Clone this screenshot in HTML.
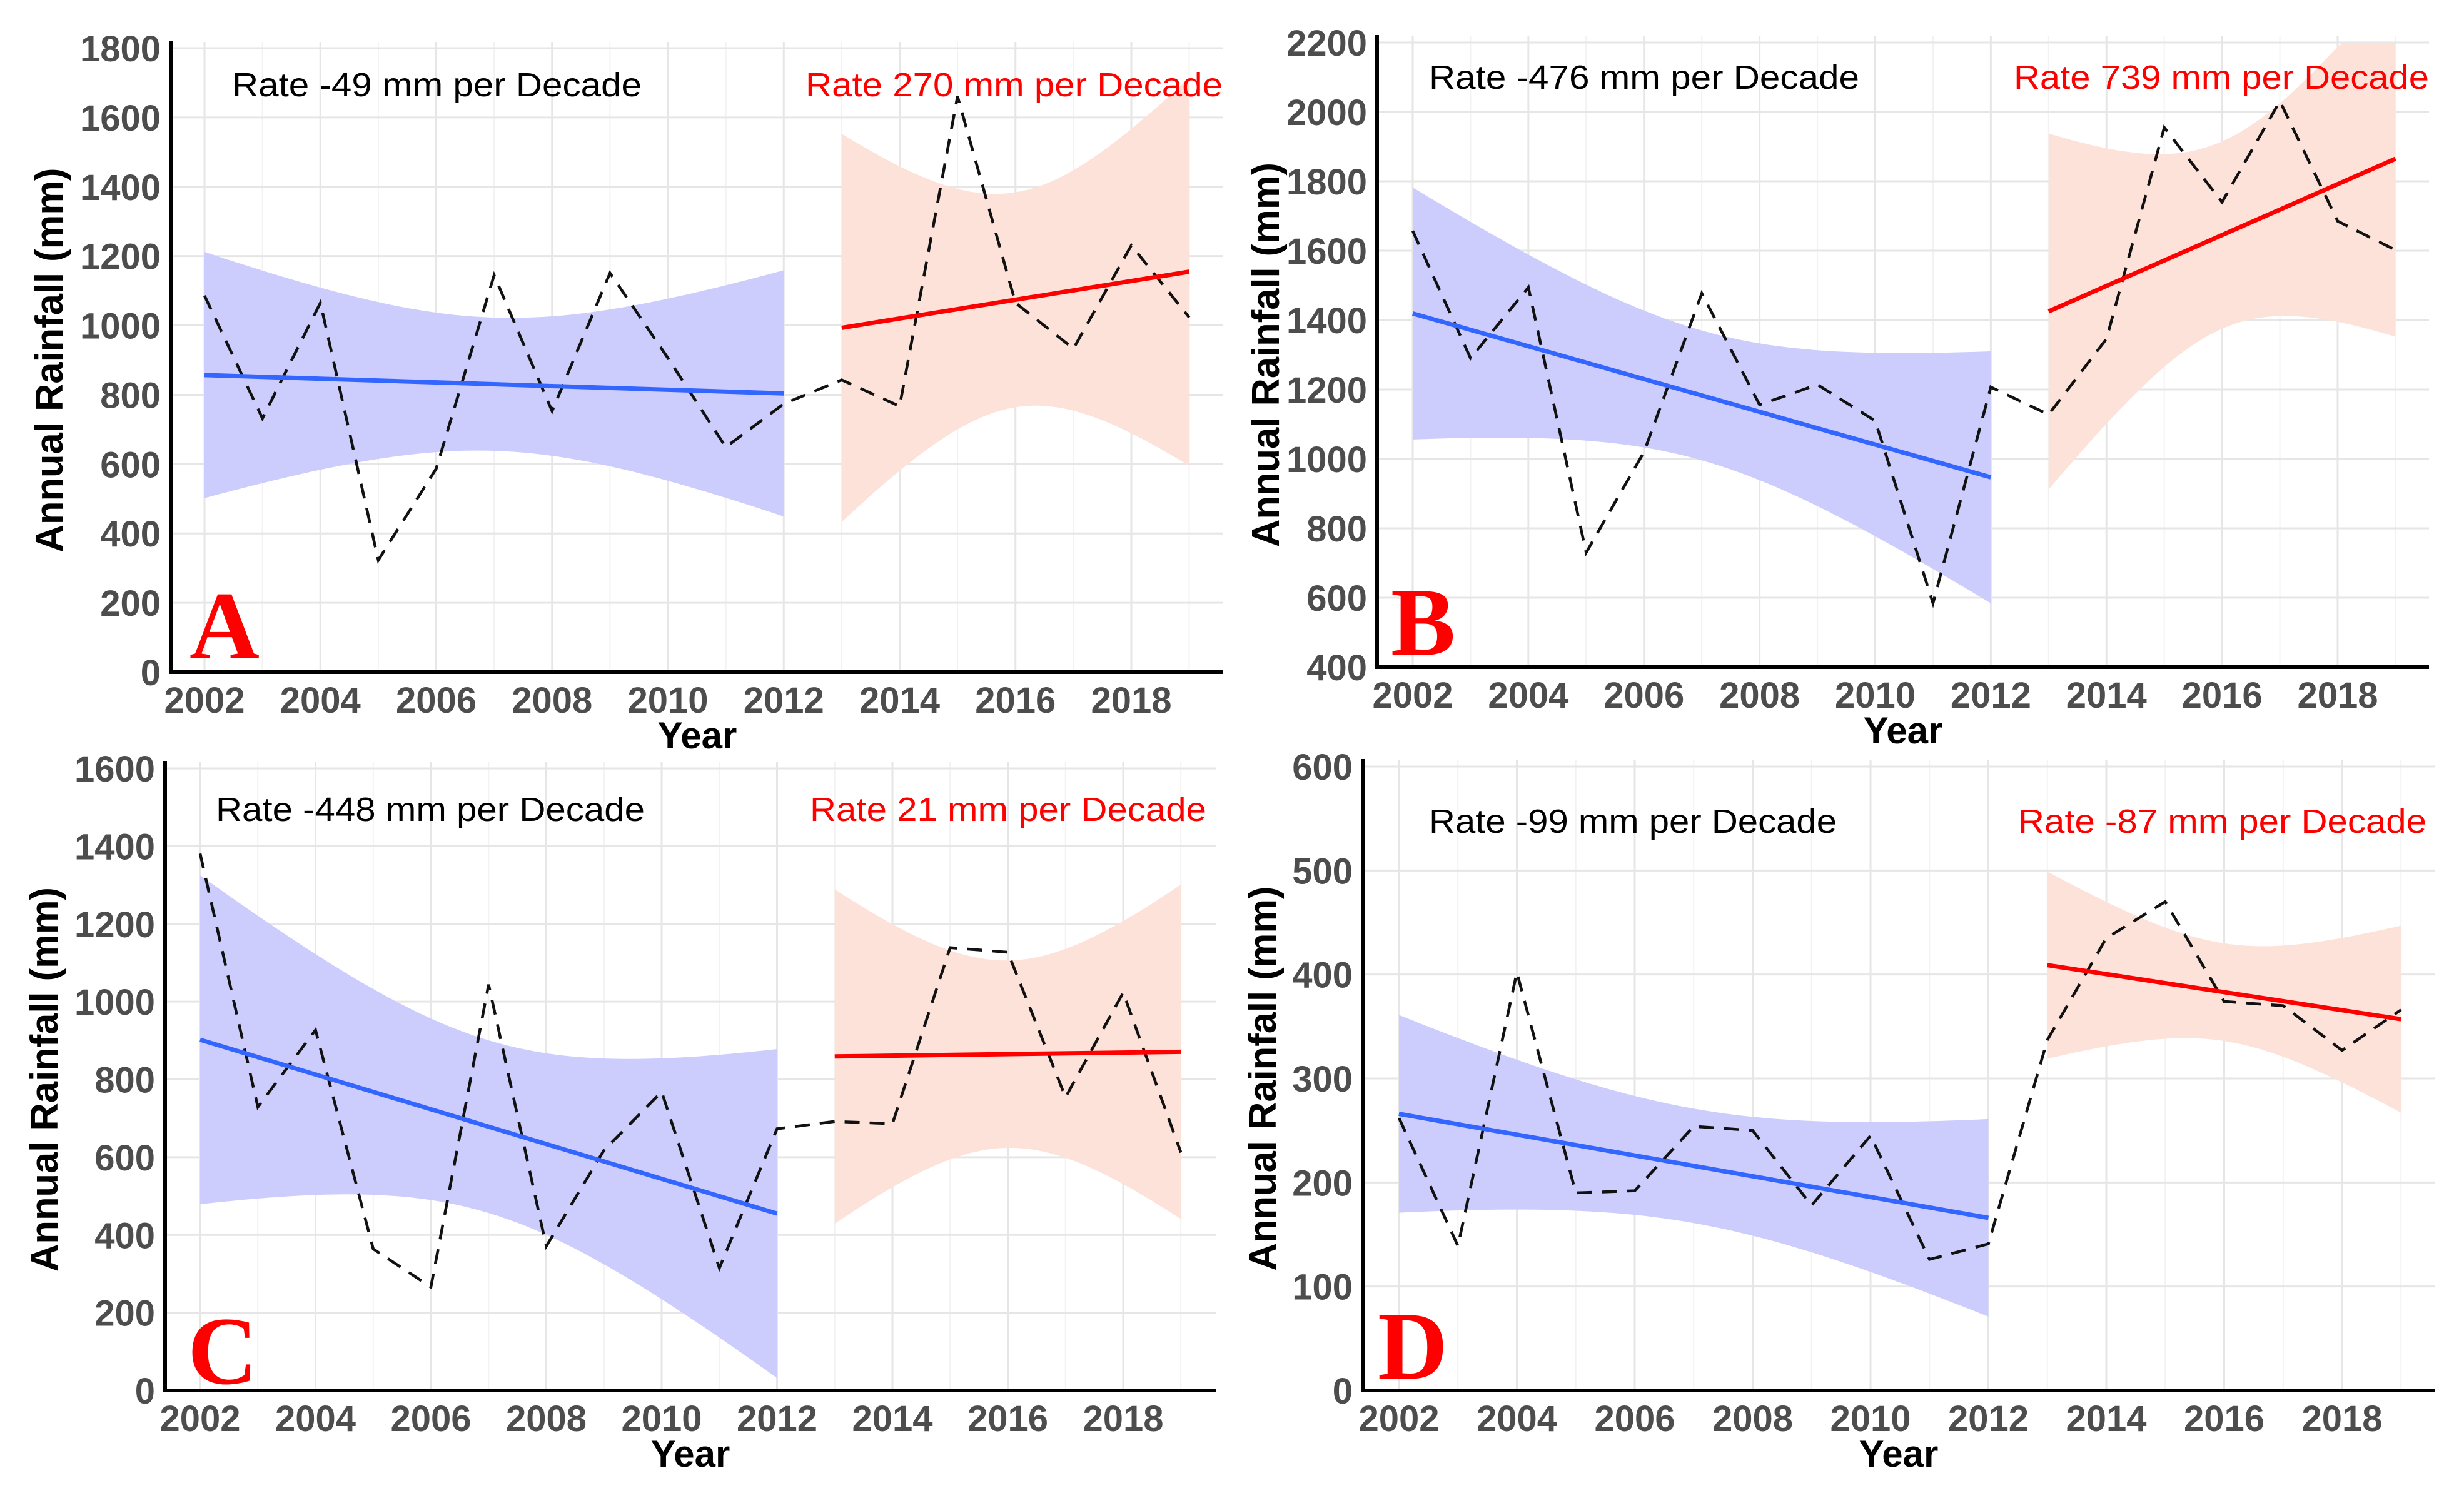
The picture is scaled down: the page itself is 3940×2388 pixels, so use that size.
<!DOCTYPE html>
<html><head><meta charset="utf-8"><style>
html,body{margin:0;padding:0;background:#fff}
svg{display:block}
text{font-family:"Liberation Sans",Arial,sans-serif}
</style></head><body>
<svg id="fig" xmlns="http://www.w3.org/2000/svg" width="3940" height="2388" viewBox="0 0 3940 2388"></svg>
<script>
// ---- data ----
const years = [2002,2003,2004,2005,2006,2007,2008,2009,2010,2011,2012,2013,2014,2015,2016,2017,2018,2019];
const xTicks = [2002,2004,2006,2008,2010,2012,2014,2016,2018];
const rainA = [1086,732,1065,323,587,1145,753,1151,906,649,774,843,767,1661,1065,933,1231,1023];
const rainB = [1657,1290,1494,730,1020,1477,1156,1214,1110,584,1207,1128,1346,1955,1740,2031,1685,1602];
const rainC = [1381,729,927,364,266,1044,371,618,768,315,673,692,686,1139,1127,754,1023,612];
const rainD = [262,139,402,190,192,254,250,178,245,126,141,337,435,470,374,370,327,366];
// trend start/end values (period 1: 2002-2012, period 2: 2013-2019)
const trendA1 = [857,804], trendA2 = [993,1155];
const trendB1 = [1419,947], trendB2 = [1425,1865];
const trendC1 = [902,455], trendC2 = [859,871];
const trendD1 = [266,166], trendD2 = [409,357];
// confidence band half-widths [at middle, at ends]
const bandA1 = [192,355], bandA2 = [310,560];
const bandB1 = [187,363], bandB2 = [270,513];
const bandC1 = [222,423], bandC2 = [241,430];
const bandD1 = [55,95], bandD2 = [47,90];
const yTicksA = [0,200,400,600,800,1000,1200,1400,1600,1800];
const yTicksB = [400,600,800,1000,1200,1400,1600,1800,2000,2200];
const yTicksC = [0,200,400,600,800,1000,1200,1400,1600];
const yTicksD = [0,100,200,300,400,500,600];
const ratesA = ["Rate -49 mm per Decade","Rate 270 mm per Decade"];
const ratesB = ["Rate -476 mm per Decade","Rate 739 mm per Decade"];
const ratesC = ["Rate -448 mm per Decade","Rate 21 mm per Decade"];
const ratesD = ["Rate -99 mm per Decade","Rate -87 mm per Decade"];

const NS = "http://www.w3.org/2000/svg";
const svg = document.getElementById('fig');
function mk(tag, attrs, parent){
  const e = document.createElementNS(NS, tag);
  for (const k in attrs) e.setAttribute(k, attrs[k]);
  (parent||svg).appendChild(e);
  return e;
}

function drawPanel(L, rain, t1, t2, b1, b2, yTicks, rates, letter, key){
  const g = mk('g', {});
  
  
  const x = v => L.x0 + (v - 2002) * (L.x1 - L.x0) / 16;
  const y = v => L.yb + (v - L.vmin) * (L.yt - L.yb) / (L.vmax - L.vmin);
  // grid
  const grid = mk('g', {}, g);
  
  
  for (let yr = 2002; yr <= 2019; yr++) {
    const major = (yr % 2 === 0);
    mk('line', {x1:x(yr), x2:x(yr), y1:L.yt - 10, y2:L.yb, stroke: major ? '#e6e6e6' : '#f2f2f2', 'stroke-width': major ? 3 : 2}, grid);
  }
  yTicks.forEach(v => mk('line', {x1:L.ax, x2:L.right, y1:y(v), y2:y(v), stroke:'#e6e6e6', 'stroke-width':3}, grid));
  // bands
  function band(tr, bw, xa, xb, color, name){
    const xm = (xa + xb) / 2, pts = [], low = [];
    for (let i = 0; i <= 60; i++) {
      const xv = xa + (xb - xa) * i / 60;
      const c = tr[0] + (tr[1] - tr[0]) * (xv - xa) / (xb - xa);
      const f = (xv - xm) / (xb - xm);
      const h = Math.sqrt(bw[0]*bw[0] + (bw[1]*bw[1] - bw[0]*bw[0]) * f * f);
      const up = Math.min(c + h, L.vmax), lo = Math.max(c - h, L.vmin);
      pts.push(x(xv).toFixed(1) + ',' + y(up).toFixed(1));
      low.unshift(x(xv).toFixed(1) + ',' + y(lo).toFixed(1));
    }
    const p = mk('polygon', {points: pts.concat(low).join(' '), fill: color}, g);
    
    
  }
  band(t1, b1, 2002, 2012, '#ccccfd', 'confidence-band-2002-2012');
  band(t2, b2, 2013, 2019, '#fde2da', 'confidence-band-2013-2019');
  // dashed series
  const path = mk('polyline', {points: rain.map((v,i) => x(years[i]).toFixed(1) + ',' + y(v).toFixed(1)).join(' '), fill:'none', stroke:'#111', 'stroke-width':4.5, 'stroke-dasharray':'24 16'}, g);
  
  
  // trends
  const l1 = mk('line', {x1:x(2002), x2:x(2012), y1:y(t1[0]), y2:y(t1[1]), stroke:'#3366ff', 'stroke-width':7}, g);
  
  
  const l2 = mk('line', {x1:x(2013), x2:x(2019), y1:y(t2[0]), y2:y(t2[1]), stroke:'#ff0000', 'stroke-width':7}, g);
  
  
  // axes
  const ya = mk('line', {x1:L.ax, x2:L.ax, y1:L.yt - 12, y2:L.yb + 3, stroke:'#000', 'stroke-width':6}, g);
  
  
  const xa = mk('line', {x1:L.ax - 3, x2:L.right, y1:L.yb, y2:L.yb, stroke:'#000', 'stroke-width':6}, g);
  
  
  yTicks.forEach(v => {
    const t = mk('text', {x:L.ax - 16, y:y(v) + 21, 'text-anchor':'end', 'font-size':58, 'font-weight':'bold', fill:'#4d4d4d'}, g);
    t.textContent = v;
    
    
  });
  xTicks.forEach(v => {
    const t = mk('text', {x:x(v), y:L.yb + 65, 'text-anchor':'middle', 'font-size':58, 'font-weight':'bold', fill:'#4d4d4d'}, g);
    t.textContent = v;
    
    
  });
  const xt = mk('text', {x:L.xtx, y:L.yb + 122, 'text-anchor':'middle', 'font-size':60, 'font-weight':'bold', fill:'#000'}, g);
  xt.textContent = 'Year';
  
  
  const ymid = (L.yt + L.yb) / 2;
  const yt = mk('text', {x:0, y:0, transform:`translate(${L.ytx},${ymid}) rotate(-90)`, 'text-anchor':'middle', 'font-size':62, 'font-weight':'bold', fill:'#000', textLength:615, lengthAdjust:'spacingAndGlyphs'}, g);
  yt.textContent = 'Annual Rainfall (mm)';
  
  
  const r1 = mk('text', {x:L.r1x, y:L.ry, 'font-size':54, fill:'#000', textLength:L.r1w, lengthAdjust:'spacingAndGlyphs'}, g);
  r1.textContent = rates[0];
  
  
  const r2 = mk('text', {x:L.r2x, y:L.ry, 'font-size':54, fill:'#ff0000', textLength:L.r2w, lengthAdjust:'spacingAndGlyphs'}, g);
  r2.textContent = rates[1];
  
  
  const pl = mk('text', {x:L.lx, y:L.ly, 'font-size':155, 'font-weight':'bold', fill:'#ff0000', style:'font-family:"Liberation Serif",serif'}, g);
  pl.textContent = letter;
  
  
}

drawPanel({x0:327, x1:1809, ax:273, right:1955, yt:77, yb:1075, vmin:0, vmax:1800, xtx:1115, ytx:100,
  r1x:371, r1w:655, r2x:1288, r2w:667, ry:154, lx:303, ly:1053}, rainA, trendA1, trendA2, bandA1, bandA2, yTicksA, ratesA, 'A', 'a');
drawPanel({x0:2259, x1:3738, ax:2202, right:3884, yt:68, yb:1067, vmin:400, vmax:2200, xtx:3043, ytx:2045,
  r1x:2285, r1w:688, r2x:3220, r2w:664, ry:142, lx:2224, ly:1047}, rainB, trendB1, trendB2, bandB1, bandB2, yTicksB, ratesB, 'B', 'b');
drawPanel({x0:320, x1:1796, ax:264, right:1945, yt:1229, yb:2224, vmin:0, vmax:1600, xtx:1104, ytx:92,
  r1x:345, r1w:686, r2x:1295, r2w:634, ry:1313, lx:300, ly:2213}, rainC, trendC1, trendC2, bandC1, bandC2, yTicksC, ratesC, 'C', 'c');
drawPanel({x0:2237, x1:3745, ax:2179, right:3893, yt:1226, yb:2224, vmin:0, vmax:600, xtx:3036, ytx:2040,
  r1x:2285, r1w:652, r2x:3227, r2w:653, ry:1332, lx:2203, ly:2205}, rainD, trendD1, trendD2, bandD1, bandD2, yTicksD, ratesD, 'D', 'd');
</script>
</body></html>
